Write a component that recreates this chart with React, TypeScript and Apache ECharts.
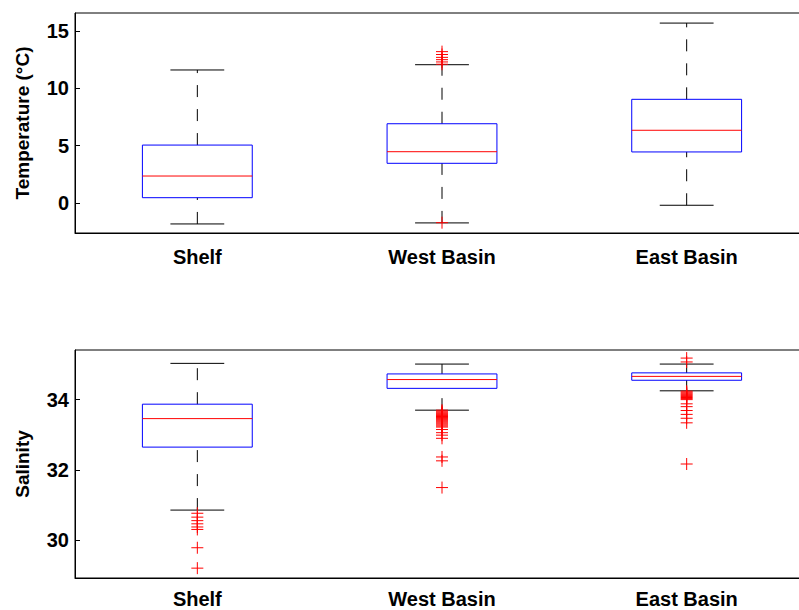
import React, { useEffect, useRef } from "react";
import * as echarts from "echarts";

const categories = ["Shelf", "West Basin", "East Basin"];

// Box statistics: [lower whisker, Q1, median, Q3, upper whisker]
const tempShelf = [-1.83, 0.46, 2.35, 5.05, 11.6];
const tempWest = [-1.74, 3.46, 4.47, 6.91, 12.06];
const tempEast = [-0.2, 4.45, 6.34, 9.04, 15.69];

const tempOutShelf: number[] = [];
const tempOutWest = [13.2, 12.95, 12.7, 12.5, 12.3, 12.1, -1.72];
const tempOutEast: number[] = [];

const salShelf = [30.86, 32.65, 33.46, 33.87, 35.03];
const salWest = [33.7, 34.32, 34.57, 34.73, 35.01];
const salEast = [34.25, 34.55, 34.66, 34.76, 35.01];

const salOutShelf = [30.77, 30.66, 30.56, 30.47, 30.38, 30.31, 29.79, 29.21];
const salOutWest = [
  33.7, 33.67, 33.64, 33.61, 33.58, 33.55, 33.52, 33.49, 33.46, 33.43, 33.4,
  33.37, 33.34, 33.31, 33.28, 33.25, 33.22, 33.15, 33.06, 32.99, 32.9, 32.37,
  32.26, 31.5,
];
const salOutEast = [
  35.18, 35.07, 34.24, 34.21, 34.18, 34.15, 34.12, 34.09, 34.06, 34.03, 34.0,
  33.88, 33.8, 33.69, 33.58, 33.47, 33.34, 32.17,
];

const tempTicks = [0, 5, 10, 15];
const salTicks = [30, 32, 34];

const FONT = "'Liberation Sans', Arial, Helvetica, sans-serif";

function renderBox(_params: any, api: any) {
  const i = api.value(0);
  const band = api.size([1, 0])[0];
  const bh = band * 0.2245;
  const ch = band * 0.11;
  const c = (v: number) => api.coord([i, v]);
  const pLw = c(api.value(1));
  const pQ1 = c(api.value(2));
  const pMed = c(api.value(3));
  const pQ3 = c(api.value(4));
  const pUw = c(api.value(5));
  const cx = pMed[0];
  const dash = { stroke: "#000", lineWidth: 1, lineDash: [12, 12], fill: null };
  const solid = { stroke: "#000", lineWidth: 1, fill: null };
  return {
    type: "group",
    children: [
      { type: "line", shape: { x1: cx, y1: pLw[1], x2: cx, y2: pQ1[1] }, style: dash },
      { type: "line", shape: { x1: cx, y1: pQ3[1], x2: cx, y2: pUw[1] }, style: dash },
      { type: "line", shape: { x1: cx - ch, y1: pLw[1], x2: cx + ch, y2: pLw[1] }, style: solid },
      { type: "line", shape: { x1: cx - ch, y1: pUw[1], x2: cx + ch, y2: pUw[1] }, style: solid },
      {
        type: "rect",
        shape: { x: cx - bh, y: pQ3[1], width: 2 * bh, height: pQ1[1] - pQ3[1] },
        style: { fill: "none", stroke: "#0000ff", lineWidth: 1 },
      },
      {
        type: "line",
        shape: { x1: cx - bh, y1: pMed[1], x2: cx + bh, y2: pMed[1] },
        style: { stroke: "#ff0000", lineWidth: 1, fill: null },
      },
    ],
  };
}

function renderPlus(_params: any, api: any) {
  const p = api.coord([api.value(0), api.value(1)]);
  const h = 6;
  const st = { stroke: "#ff0000", lineWidth: 1, fill: null };
  return {
    type: "group",
    children: [
      { type: "line", shape: { x1: p[0] - h, y1: p[1], x2: p[0] + h, y2: p[1] }, style: st },
      { type: "line", shape: { x1: p[0], y1: p[1] - h, x2: p[0], y2: p[1] + h }, style: st },
    ],
  };
}

const toBoxData = (stats: number[][]) => stats.map((s, i) => [i, ...s]);
const toOutData = (outs: number[][]) =>
  outs.flatMap((arr, i) => arr.map((v) => [i, v]));

export default function App() {
  const ref = useRef<HTMLDivElement>(null);
  useEffect(() => {
    if (!ref.current) return;
    const chart = echarts.init(ref.current, null, { renderer: "svg" });
    const axisLabelCat = {
      color: "#000",
      fontFamily: FONT,
      fontWeight: "bold",
      fontSize: 20,
      margin: 14,
    };
    const yLabel = {
      color: "#000",
      fontFamily: FONT,
      fontWeight: "bold",
      fontSize: 20,
      margin: 6,
    };
    const nameStyle = {
      color: "#000",
      fontFamily: FONT,
      fontWeight: "bold",
      fontSize: 19,
    };
    const gridBase = {
      left: 75,
      width: 734,
      show: true,
      borderColor: "#000",
      borderWidth: 1,
      backgroundColor: "transparent",
      containLabel: false,
      outerBoundsMode: "none",
    };
    chart.setOption({
      animation: false,
      backgroundColor: "#fff",
      grid: [
        { ...gridBase, top: 13, height: 220 },
        { ...gridBase, top: 350, height: 228 },
      ],
      xAxis: [0, 1].map((g) => ({
        type: "category",
        gridIndex: g,
        data: categories,
        axisLine: { onZero: false, lineStyle: { color: "#000", width: 1 } },
        axisTick: { show: false },
        axisLabel: { ...axisLabelCat, margin: g === 0 ? 14 : 11 },
        splitLine: { show: false },
      })),
      yAxis: [
        {
          type: "value",
          gridIndex: 0,
          min: -2.62,
          max: 16.57,
          name: "Temperature (°C)",
          nameLocation: "middle",
          nameGap: 43,
          nameTextStyle: nameStyle,
          axisLine: { show: true, onZero: false, lineStyle: { color: "#000", width: 1 } },
          axisTick: { show: true, inside: true, length: 5, customValues: tempTicks, lineStyle: { color: "#000" } },
          axisLabel: { ...yLabel, customValues: tempTicks },
          splitLine: { show: false },
        },
        {
          type: "value",
          gridIndex: 1,
          min: 28.93,
          max: 35.41,
          name: "Salinity",
          nameLocation: "middle",
          nameGap: 43,
          nameTextStyle: nameStyle,
          axisLine: { show: true, onZero: false, lineStyle: { color: "#000", width: 1 } },
          axisTick: { show: true, inside: true, length: 5, customValues: salTicks, lineStyle: { color: "#000" } },
          axisLabel: { ...yLabel, customValues: salTicks },
          splitLine: { show: false },
        },
      ],
      series: [
        {
          type: "custom",
          xAxisIndex: 0,
          yAxisIndex: 0,
          renderItem: renderBox,
          encode: { x: 0, y: [1, 2, 3, 4, 5] },
          data: toBoxData([tempShelf, tempWest, tempEast]),
          silent: true,
        },
        {
          type: "custom",
          xAxisIndex: 0,
          yAxisIndex: 0,
          renderItem: renderPlus,
          encode: { x: 0, y: 1 },
          data: toOutData([tempOutShelf, tempOutWest, tempOutEast]),
          silent: true,
        },
        {
          type: "custom",
          xAxisIndex: 1,
          yAxisIndex: 1,
          renderItem: renderBox,
          encode: { x: 0, y: [1, 2, 3, 4, 5] },
          data: toBoxData([salShelf, salWest, salEast]),
          silent: true,
        },
        {
          type: "custom",
          xAxisIndex: 1,
          yAxisIndex: 1,
          renderItem: renderPlus,
          encode: { x: 0, y: 1 },
          data: toOutData([salOutShelf, salOutWest, salOutEast]),
          silent: true,
        },
      ],
    });
    return () => chart.dispose();
  }, []);
  return (
    <div
      ref={ref}
      style={{ position: "fixed", left: 0, top: 0, width: 799, height: 610, background: "#fff" }}
    />
  );
}
